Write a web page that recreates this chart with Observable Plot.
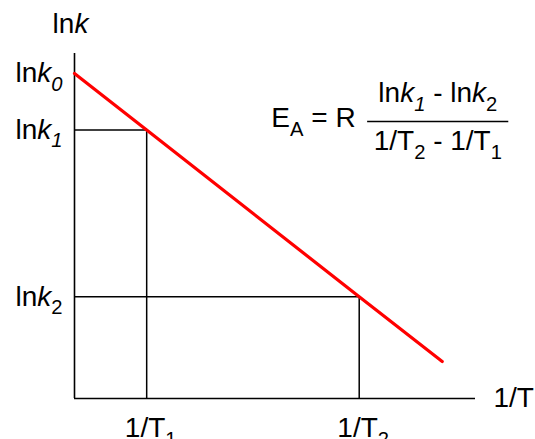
<!DOCTYPE html>
<html>
<head>
<meta charset="utf-8">
<script src="https://cdn.jsdelivr.net/npm/d3@7"></script>
<script src="https://cdn.jsdelivr.net/npm/@observablehq/plot@0.6"></script>
<style>
  html, body { margin: 0; padding: 0; background: #fff; }
  svg text { white-space: pre; }
</style>
</head>
<body>
<div id="chart"></div>
<script>
// Arrhenius plot: ln k against 1/T (arbitrary units)
const invT = [1.8, 7.1];                       // 1/T1, 1/T2
const invTLabels = ["1/T<sub>1</sub>", "1/T<sub>2</sub>"];
const lnk = [9.42, 7.78, 2.95];                // ln k0 (intercept), ln k1, ln k2
const lnkLabels = [
  "ln<i>k</i><sub><i>0</i></sub>",
  "ln<i>k</i><sub><i>1</i></sub>",
  "ln<i>k</i><sub>2</sub>"
];
const lineEndX = 9.17;
const lineEndY = 1.07;
const xAxisLabel = "1/T";
const yAxisLabel = "ln<i>k</i>";
const formulaLeft = "E<sub>A</sub> = R";
const formulaNum = "ln<i>k</i><sub><i>1</i></sub> - ln<i>k</i><sub>2</sub>";
const formulaDen = "1/T<sub>2</sub> - 1/T<sub>1</sub>";

// straight line through the intercept and both measured points
const lineData = [0, ...invT, lineEndX].map((x, i) => ({x, y: i < lnk.length ? lnk[i] : lineEndY}));
const guides = invT.map((x, i) => ({x, y: lnk[i + 1]}));

const FS = 28;
const font = "'Liberation Sans', Arial, Helvetica, sans-serif";

// placement of the formula, in the chart's coordinates
const fracX = 9.06, fracY = 8.03, fracX1 = 7.31, fracX2 = 10.83;

const chart = Plot.plot({
  width: 535,
  height: 439,
  marginLeft: 74,
  marginRight: 60,
  marginTop: 53,
  marginBottom: 41,
  x: {domain: [0, 10], axis: null},
  y: {domain: [0, 10], axis: null},
  style: {fontFamily: font, background: "#fff", color: "#000"},
  marks: [
    Plot.ruleY(guides, {y: "y", x1: 0, x2: "x", stroke: "#000", strokeWidth: 1.5}),
    Plot.ruleX(guides, {x: "x", y1: 0, y2: "y", stroke: "#000", strokeWidth: 1.5}),
    Plot.ruleX([0], {y1: 0, y2: 10, stroke: "#000", strokeWidth: 1.6}),
    Plot.ruleY([0], {x1: 0, x2: 10, stroke: "#000", strokeWidth: 1.6}),
    Plot.line(lineData, {x: "x", y: "y", stroke: "#ff0000", strokeWidth: 3.2}),
    Plot.text(lnk, {x: 0, y: d => d, text: (d, i) => lnkLabels[i], textAnchor: "end", dx: -12, fontSize: FS, fill: "#000"}),
    Plot.text(invT, {x: d => d, y: 0, text: (d, i) => invTLabels[i], lineAnchor: "top", dy: 19, dx: 4, fontSize: FS, fill: "#000"}),
    Plot.text([xAxisLabel], {x: 10, y: 0, text: d => d, textAnchor: "start", dx: 18, fontSize: FS, fill: "#000"}),
    Plot.text([yAxisLabel], {x: 0, y: 10, text: d => d, dx: -4, dy: -29, fontSize: FS, fill: "#000"}),
    Plot.ruleY([fracY], {x1: fracX1, x2: fracX2, stroke: "#000", strokeWidth: 1.6}),
    Plot.text([formulaNum], {x: fracX, y: fracY, text: d => d, dy: -28, fontSize: FS, fill: "#000"}),
    Plot.text([formulaDen], {x: fracX, y: fracY, text: d => d, dy: 20, fontSize: FS, fill: "#000"}),
    Plot.text([formulaLeft], {x: fracX1, y: fracY, text: d => d, textAnchor: "end", dx: -12, dy: -3, fontSize: FS, fill: "#000"})
  ]
});

// Turn the small markup (<i>, <sub>) inside text marks into styled tspans
function richify(textEl) {
  const src = textEl.textContent;
  if (!src.includes("<")) return;
  const g = textEl.closest("[font-size]");
  const fs = g ? parseFloat(g.getAttribute("font-size")) : FS;
  const tpl = document.createElement("template");
  tpl.innerHTML = src;
  const runs = [];
  (function walk(node, it, sub) {
    for (const c of node.childNodes) {
      if (c.nodeType === 3) runs.push({t: c.nodeValue, it, sub});
      else if (c.nodeType === 1) {
        const tag = c.tagName.toLowerCase();
        walk(c, it || tag === "i", sub || tag === "sub");
      }
    }
  })(tpl.content, false, false);
  textEl.textContent = "";
  let shift = 0;
  for (const r of runs) {
    const ts = document.createElementNS("http://www.w3.org/2000/svg", "tspan");
    ts.textContent = r.t;
    if (r.it) ts.setAttribute("font-style", "italic");
    const target = r.sub ? 0.3 * fs : 0;
    if (target !== shift) ts.setAttribute("dy", (target - shift).toFixed(2));
    shift = target;
    if (r.sub) ts.setAttribute("font-size", (0.72 * fs).toFixed(1));
    textEl.appendChild(ts);
  }
}
chart.querySelectorAll("text").forEach(richify);

document.getElementById("chart").appendChild(chart);
</script>
</body>
</html>
